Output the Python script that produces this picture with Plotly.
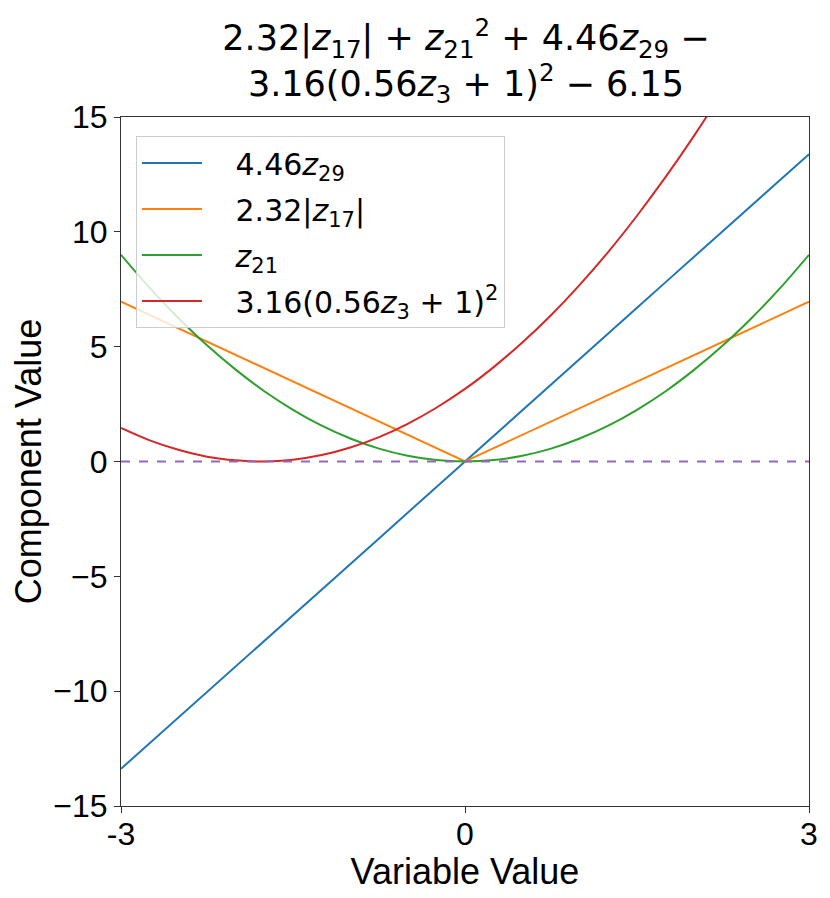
import plotly.graph_objects as go

# sample points
x_vals = [-3, -2.75, -2.5, -2.25, -2, -1.75, -1.5, -1.25, -1, -0.75, -0.5, -0.25, 0,
          0.25, 0.5, 0.75, 1, 1.25, 1.5, 1.75, 2, 2.25, 2.5, 2.75, 3]

blue_z29 = [-13.38, -12.27, -11.15, -10.04, -8.92, -7.81, -6.69, -5.58, -4.46, -3.35, -2.23, -1.12, 0,
            1.12, 2.23, 3.35, 4.46, 5.58, 6.69, 7.81, 8.92, 10.04, 11.15, 12.27, 13.38]
orange_z17 = [6.96, 6.38, 5.80, 5.22, 4.64, 4.06, 3.48, 2.90, 2.32, 1.74, 1.16, 0.58, 0,
              0.58, 1.16, 1.74, 2.32, 2.90, 3.48, 4.06, 4.64, 5.22, 5.80, 6.38, 6.96]
green_z21 = [9, 7.56, 6.25, 5.06, 4, 3.06, 2.25, 1.56, 1, 0.56, 0.25, 0.06, 0,
             0.06, 0.25, 0.56, 1, 1.56, 2.25, 3.06, 4, 5.06, 6.25, 7.56, 9]
red_z3 = [1.46, 0.92, 0.51, 0.21, 0.05, 0.0, 0.08, 0.28, 0.61, 1.06, 1.64, 2.34, 3.16,
          4.11, 5.18, 6.37, 7.69, 9.13, 10.70, 12.39, 14.20, 16.14, 18.20, 20.39, 22.70]

names = ["4.46<i>z</i><sub>29</sub>",
         "2.32|<i>z</i><sub>17</sub>|",
         "<i>z</i><sub>21</sub>",
         "3.16(0.56<i>z</i><sub>3</sub> + 1)<sup>2</sup>"]
colors = ["#1f77b4", "#ff7f0e", "#2ca02c", "#d62728"]
shapes = ["linear", "linear", "spline", "spline"]
series = [blue_z29, orange_z17, green_z21, red_z3]

x_ticks = [-3, 0, 3]
x_ticktext = ["-3", "0", "3"]
y_ticks = [-15, -10, -5, 0, 5, 10, 15]
y_ticktext = ["\u221215", "\u221210", "\u22125", "0", "5", "10", "15"]

fig = go.Figure()
for i, (nm, col, shp, ys) in enumerate(zip(names, colors, shapes, series)):
    fig.add_trace(go.Scatter(x=x_vals, y=ys, mode="lines", name="&nbsp;&nbsp;&nbsp;" + nm,
                             legendgroup=f"g{i}",
                             line=dict(color=col, width=2, shape=shp)))

# zero reference line
fig.add_trace(go.Scatter(x=[-3, 3], y=[0, 0], mode="lines", showlegend=False,
                         line=dict(color="#9467bd", width=2, dash="dash")))

fig.update_layout(
    width=830, height=898,
    paper_bgcolor="white", plot_bgcolor="white",
    margin=dict(l=121, r=19, t=117, b=92),
    font=dict(family="Liberation Sans, Arial, sans-serif", color="black"),
    title=dict(text="2.32|<i>z</i><sub>17</sub>| + <i>z</i><sub>21</sub><sup>2</sup> + 4.46<i>z</i><sub>29</sub> \u2212<br>"
                    "3.16(0.56<i>z</i><sub>3</sub> + 1)<sup>2</sup> \u2212 6.15",
               x=0.5614, xanchor="center", y=0.944, yanchor="middle",
               font=dict(family="DejaVu Sans, sans-serif", size=35)),
    showlegend=True,
    legend=dict(x=0.0217, y=0.9724, xanchor="left", yanchor="top",
                bgcolor="rgba(255,255,255,0.8)", bordercolor="#cccccc", borderwidth=1,
                font=dict(family="DejaVu Sans, sans-serif", size=30),
                itemwidth=60, tracegroupgap=4),
)

fig.update_xaxes(range=[-3, 3], tickvals=x_ticks, ticktext=x_ticktext,
                 showgrid=False, zeroline=False, showline=True, mirror=True,
                 linecolor="#333333", linewidth=1.2, ticks="outside", ticklen=6,
                 tickcolor="#333333", tickfont=dict(size=32), ticklabelstandoff=-7,
                 title=dict(text="Variable Value", font=dict(size=36), standoff=0))
fig.update_yaxes(range=[-15, 15], tickvals=y_ticks, ticktext=y_ticktext,
                 showgrid=False, zeroline=False, showline=True, mirror=True,
                 linecolor="#333333", linewidth=1.2, ticks="outside", ticklen=6,
                 tickcolor="#333333", tickfont=dict(size=32),
                 title=dict(text="Component Value", font=dict(size=36), standoff=0))

# drop the default body margin so the figure fills the window exactly
fig.write_html("out.html", config={"displayModeBar": False},
               post_script="document.body.style.margin='0';document.body.style.overflow='hidden';")
